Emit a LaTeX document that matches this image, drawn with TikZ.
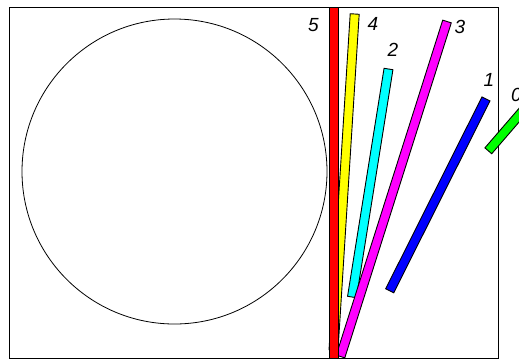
\documentclass[tikz,border=0pt]{standalone}
\usepackage{fontspec}
\setmainfont{Liberation Sans}
\usetikzlibrary{calc}

\definecolor{barred}{RGB}{255,0,0}
\definecolor{baryellow}{RGB}{255,255,0}
\definecolor{barmagenta}{RGB}{255,0,255}
\definecolor{barcyan}{RGB}{0,255,255}
\definecolor{barblue}{RGB}{0,0,255}
\definecolor{bargreen}{RGB}{0,255,0}

% one bar: fill colour, lower end, upper end
\newcommand\drawbar[3]{%
  \draw[bar, fill=#1] ($(#2)!4.5pt!90:(#3)$) -- ($(#3)!4.5pt!-90:(#2)$)
    -- ($(#3)!4.5pt!90:(#2)$) -- ($(#2)!4.5pt!-90:(#3)$) -- cycle;}

\begin{document}
\begin{tikzpicture}[
  x=1pt, y=-1pt,
  frame/.style={draw, line width=0.9pt},
  disc/.style={draw, line width=0.8pt},
  bar/.style={draw=black, line width=0.9pt, line join=miter},
  num/.style={inner sep=0pt, font=\fontsize{19}{19}\selectfont\itshape}
]
\useasboundingbox (0,0) rectangle (519,360);

% frame and circle
\draw[frame] (9,7) rectangle (498,358);
\draw[disc] (174.5,171.5) circle (152.5);

% bar ends
\coordinate (b5a) at (333.5,358);  \coordinate (b5b) at (333.5,7);
\coordinate (b4a) at (333.5,350);  \coordinate (b4b) at (354.7,14);
\coordinate (b3a) at (340.5,356.5);\coordinate (b3b) at (447,21.5);
\coordinate (b2a) at (352,297);    \coordinate (b2b) at (388.5,69);
\coordinate (b1a) at (389.7,290.8);\coordinate (b1b) at (486,98.9);
\coordinate (b0a) at (488.3,150.8);\coordinate (b0b) at (530,102.5);

% bars
\drawbar{barcyan}{b2a}{b2b}
\drawbar{baryellow}{b4a}{b4b}
\drawbar{barmagenta}{b3a}{b3b}
\drawbar{barred}{b5a}{b5b}
\drawbar{barblue}{b1a}{b1b}
\drawbar{bargreen}{b0a}{b0b}

% labels
\node[num] (n5) at (313.5,25) {5};
\node[num] (n4) at (373,24) {4};
\node[num] (n2) at (393,50) {2};
\node[num] (n3) at (460,27) {3};
\node[num] (n1) at (489,80) {1};
\node[num] (n0) at (516.5,95) {0};

\end{tikzpicture}
\end{document}
